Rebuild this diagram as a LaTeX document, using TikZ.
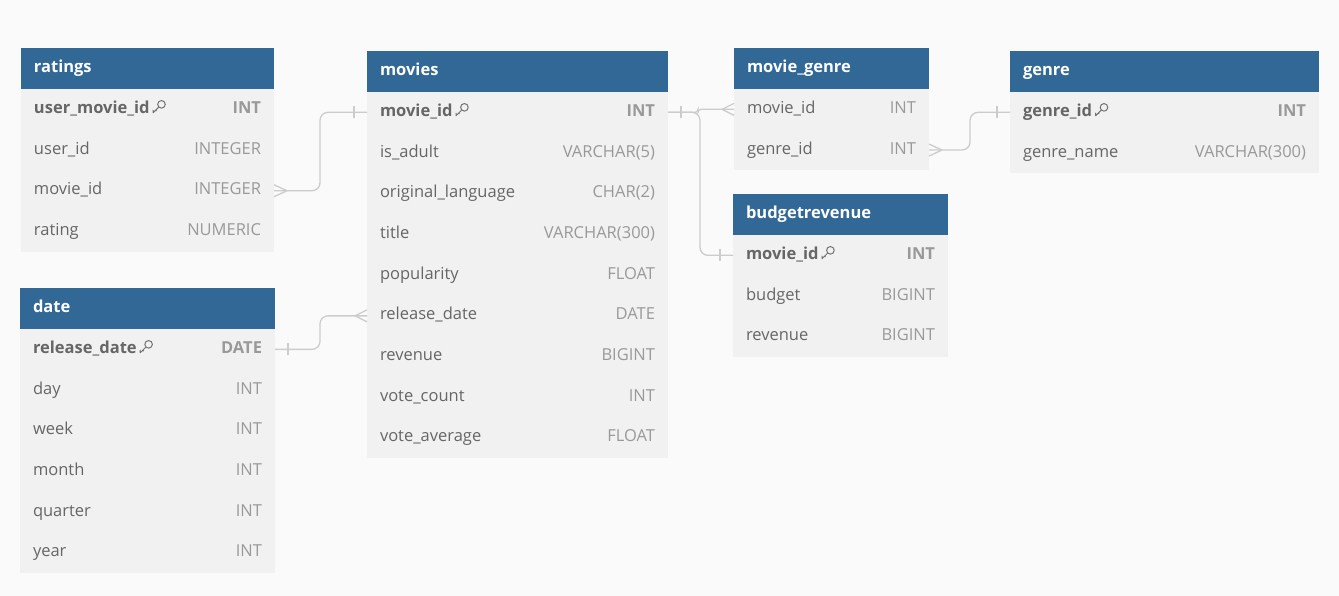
\documentclass[tikz,border=0pt]{standalone}
\usepackage{fontspec}
\setmainfont{Open Sans}
\usetikzlibrary{positioning}
\definecolor{hdblue}{RGB}{49,104,150}
\definecolor{rowgray}{RGB}{241,241,241}
\definecolor{pagegray}{RGB}{250,250,250}
\definecolor{namegray}{RGB}{102,102,102}
\definecolor{typegray}{RGB}{153,153,153}
\definecolor{linkgray}{RGB}{204,204,204}
\definecolor{keygray}{RGB}{115,115,115}
\newcommand\keyglyph{\tikz[baseline=0pt,x=1pt,y=1pt]\draw[keygray,line width=1pt,fill=none,line cap=round,line join=round] (9.6,9) circle (3.8) (6.9,6.3) -- (1.2,0.6) -- (1.2,3.2) (3,2.6) -- (4.6,2.6);}
\newcommand\fld[2]{{\color{namegray}#1}\hfill{\color{typegray}#2}}
\newcommand\pkfld[2]{{\bfseries\color{namegray}#1}\hspace{3pt}\keyglyph\hfill{\bfseries\color{typegray}#2}}
\newcommand\rowfont{\fontsize{16.5}{19}\selectfont}

\begin{document}
\begin{tikzpicture}[x=1pt,y=1pt,hd/.style={fill=hdblue,text=white,font=\rowfont\bfseries,inner xsep=13pt,inner ysep=0pt,outer sep=0pt,minimum height=41pt,text height=11.5pt,text depth=3.5pt,align=left,text width=#1,anchor=north west},fld/.style={fill=rowgray,font=\rowfont,inner xsep=13pt,inner ysep=0pt,outer sep=0pt,minimum height=40.7pt,text height=11.5pt,text depth=3.5pt,align=left,text width=#1},rel/.style={draw=linkgray,line width=1.3pt}]
\fill[pagegray] (0,0) rectangle (1339,-596);
% ratings
\node[hd=227pt] (rat) at (21,-48) {ratings};
\node[fld=227pt,below=0pt of rat] (rat1) {\pkfld{user\_movie\_id}{INT}};
\node[fld=227pt,below=0pt of rat1] (rat2) {\fld{user\_id}{INTEGER}};
\node[fld=227pt,below=0pt of rat2] (rat3) {\fld{movie\_id}{INTEGER}};
\node[fld=227pt,below=0pt of rat3] (rat4) {\fld{rating}{NUMERIC}};
% date
\node[hd=229pt] (dat) at (20,-288) {date};
\node[fld=229pt,below=0pt of dat] (dat1) {\pkfld{release\_date}{DATE}};
\node[fld=229pt,below=0pt of dat1] (dat2) {\fld{day}{INT}};
\node[fld=229pt,below=0pt of dat2] (dat3) {\fld{week}{INT}};
\node[fld=229pt,below=0pt of dat3] (dat4) {\fld{month}{INT}};
\node[fld=229pt,below=0pt of dat4] (dat5) {\fld{quarter}{INT}};
\node[fld=229pt,below=0pt of dat5] (dat6) {\fld{year}{INT}};
% movies
\node[hd=275pt] (mov) at (367,-51) {movies};
\node[fld=275pt,below=0pt of mov] (mov1) {\pkfld{movie\_id}{INT}};
\node[fld=275pt,below=0pt of mov1] (mov2) {\fld{is\_adult}{VARCHAR(5)}};
\node[fld=275pt,below=0pt of mov2] (mov3) {\fld{original\_language}{CHAR(2)}};
\node[fld=275pt,below=0pt of mov3] (mov4) {\fld{title}{VARCHAR(300)}};
\node[fld=275pt,below=0pt of mov4] (mov5) {\fld{popularity}{FLOAT}};
\node[fld=275pt,below=0pt of mov5] (mov6) {\fld{release\_date}{DATE}};
\node[fld=275pt,below=0pt of mov6] (mov7) {\fld{revenue}{BIGINT}};
\node[fld=275pt,below=0pt of mov7] (mov8) {\fld{vote\_count}{INT}};
\node[fld=275pt,below=0pt of mov8] (mov9) {\fld{vote\_average}{FLOAT}};
% movie_genre
\node[hd=169pt] (mg) at (734,-48) {movie\_genre};
\node[fld=169pt,below=0pt of mg] (mg1) {\fld{movie\_id}{INT}};
\node[fld=169pt,below=0pt of mg1] (mg2) {\fld{genre\_id}{INT}};
% budgetrevenue
\node[hd=189pt] (bud) at (733,-194) {budgetrevenue};
\node[fld=189pt,below=0pt of bud] (bud1) {\pkfld{movie\_id}{INT}};
\node[fld=189pt,below=0pt of bud1] (bud2) {\fld{budget}{BIGINT}};
\node[fld=189pt,below=0pt of bud2] (bud3) {\fld{revenue}{BIGINT}};
% genre
\node[hd=283pt] (gen) at (1010,-51) {genre};
\node[fld=283pt,below=0pt of gen] (gen1) {\pkfld{genre\_id}{INT}};
\node[fld=283pt,below=0pt of gen1] (gen2) {\fld{genre\_name}{VARCHAR(300)}};
% relations
\draw[rel,rounded corners=8pt] (rat3.east) -- ++(46,0) |- (mov1.west);
\draw[rel] ([xshift=13pt]rat3.east) -- ([yshift=6pt]rat3.east) ([xshift=13pt]rat3.east) -- ([yshift=-6pt]rat3.east);
\draw[rel] ([xshift=-13pt,yshift=-6pt]mov1.west) -- ([xshift=-13pt,yshift=6pt]mov1.west);
\draw[rel,rounded corners=8pt] (dat1.east) -- ++(45,0) |- (mov6.west);
\draw[rel] ([xshift=13pt,yshift=-6pt]dat1.east) -- ([xshift=13pt,yshift=6pt]dat1.east);
\draw[rel] ([xshift=-12pt]mov6.west) -- ([yshift=6pt]mov6.west) ([xshift=-12pt]mov6.west) -- ([yshift=-6pt]mov6.west);
\draw[rel,rounded corners=3pt] (mov1.east) -- ++(30,0) |- (mg1.west);
\draw[rel,rounded corners=8pt] (mov1.east) -- ++(32,0) |- (bud1.west);
\draw[rel] ([xshift=13pt,yshift=-6pt]mov1.east) -- ([xshift=13pt,yshift=6pt]mov1.east);
\draw[rel] ([xshift=-12pt]mg1.west) -- ([yshift=6pt]mg1.west) ([xshift=-12pt]mg1.west) -- ([yshift=-6pt]mg1.west);
\draw[rel] ([xshift=-13pt,yshift=-6pt]bud1.west) -- ([xshift=-13pt,yshift=6pt]bud1.west);
\draw[rel,rounded corners=8pt] (mg2.east) -- ++(41,0) |- (gen1.west);
\draw[rel] ([xshift=13pt]mg2.east) -- ([yshift=6pt]mg2.east) ([xshift=13pt]mg2.east) -- ([yshift=-6pt]mg2.east);
\draw[rel] ([xshift=-13pt,yshift=-6pt]gen1.west) -- ([xshift=-13pt,yshift=6pt]gen1.west);
\end{tikzpicture}
\end{document}
